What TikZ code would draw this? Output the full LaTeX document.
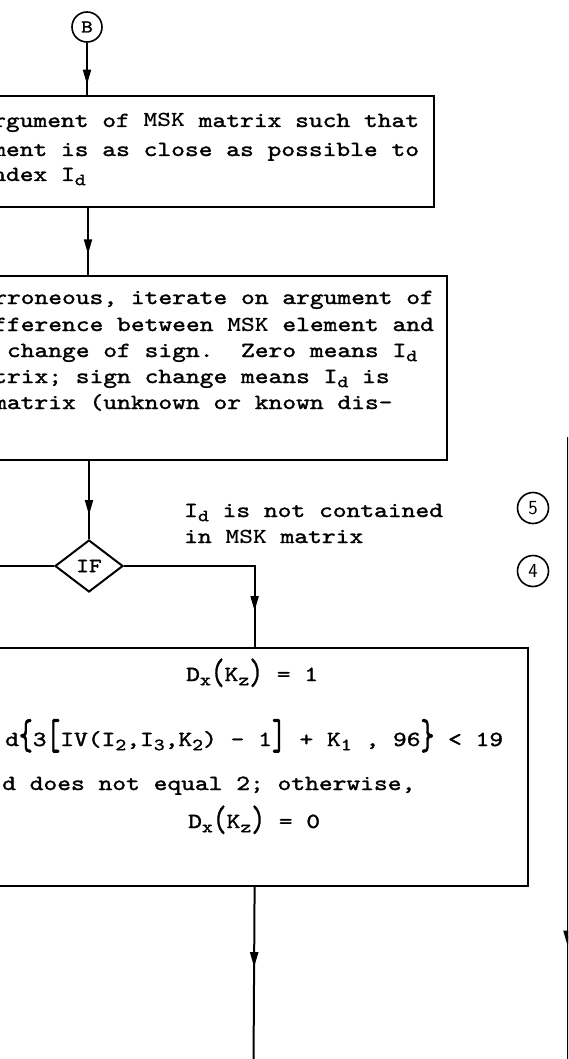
\documentclass[tikz,border=0pt]{standalone}
\usepackage{fontspec}
\usepackage{graphicx}
\setmainfont{lmmono10-regular}[Extension=.otf,FakeStretch=1.22,FakeBold=1.5]
\newfontfamily\msk{lmmonolt10-bold}[Extension=.otf,FakeStretch=1.22]
\usetikzlibrary{arrows.meta,shapes.geometric,decorations.markings}
\tikzset{
  flow/.style={line width=2pt},
  midarrow/.style={postaction={decorate},decoration={markings,
      mark=at position #1 with {\arrow{Triangle[length=15pt,width=8pt]}}}},
  box/.style={draw,line width=2.2pt,inner sep=0pt,anchor=north west},
  riga/.style={anchor=base west,inner sep=0pt,font=\fontsize{21.5}{26}\selectfont},
  conn/.style={draw,circle,line width=1.6pt,inner sep=0pt,minimum size=30pt}
}
\newcommand{\sbd}[1]{\raisebox{-0.45ex}{\fontsize{17}{17}\selectfont #1}}
\newcommand{\alto}[2][1.7]{\raisebox{-0.32ex}{\scalebox{1}[#1]{#2}}}
\begin{document}
\begin{tikzpicture}[x=1pt,y=-1pt]
  \useasboundingbox (0,0) rectangle (568,1059);
  \clip (0,0) rectangle (568,1059);
  %connettore B
  \node[conn,font=\fontsize{18}{18}\selectfont] (B) at (87,27) {B};
  %primo blocco
  \node[box,minimum width=453pt,minimum height=111pt] (box1) at (-20,95) {};
  \node[riga] (t11) at (-8,127) {rgument of {\msk MSK} matrix such that};
  \node[riga] (t12) at (-8,156) {ment is as close as possible to};
  \node[riga] (t13) at (-8,181) {ndex I\sbd{d}};
  %secondo blocco
  \node[box,minimum width=466pt,minimum height=184pt] (box2) at (-20,275) {};
  \node[riga] (t21) at (-7,304) {rroneous, iterate on argument of};
  \node[riga] (t22) at (-7,331) {fference between {\msk MSK} element and};
  \node[riga] (t23) at (-7,357) {\ change of sign.\ \ Zero means I\sbd{d}};
  \node[riga] (t24) at (-7,383) {trix; sign change means I\sbd{d} is};
  \node[riga] (t25) at (-7,409) {matrix (unknown or known dis-};
  %decisione IF
  \node[draw,diamond,line width=2pt,minimum width=68pt,minimum height=52pt,
        inner sep=0pt,font=\fontsize{20}{20}\selectfont] (IF) at (89,566) {IF};
  \node[riga] (nota1) at (184,517) {I\sbd{d} is not contained};
  \node[riga] (nota2) at (184,543) {in {\msk MSK} matrix};
  \node[conn,minimum size=31pt,font=\sffamily\fontsize{20}{20}\selectfont] (c5) at (533,508) {5};
  \node[conn,minimum size=31pt,font=\sffamily\fontsize{20}{20}\selectfont] (c4) at (533,571) {4};
  %terzo blocco
  \node[box,minimum width=547pt,minimum height=238pt] (box3) at (-20,647) {};
  \node[riga] (t31) at (186,681) {D\sbd{x}\alto{(}K\sbd{z}\alto{)} = 1};
  \node[riga] (t32) at (5,746) {d\alto[2]{\{}3\alto[2]{[}IV(I\sbd{\textbf{2}},I\sbd{3},K\sbd{\textbf{2}}) - 1\alto[2]{]} + K\sbd{1} , 96\alto[2]{\}} < 19};
  \node[riga] (t33) at (2,790) {d does not equal 2; otherwise,};
  \node[riga] (t34) at (188,828) {D\sbd{x}\alto{(}K\sbd{z}\alto{)} = 0};
  %estremi liberi
  \coordinate (sx) at (-5,566);
  \coordinate (giu) at (253.5,1065);
  \coordinate (r1) at (567.5,437);
  \coordinate (r2) at (567.5,1065);
  %collegamenti
  \draw[flow,midarrow=0.8] (B.south) -- (B.south |- box1.north);
  \draw[flow,midarrow=0.7] (88,206) coordinate (a1) -- (88,275) coordinate (a2);
  \draw[flow,midarrow=0.7] (89,459) coordinate (a3) -- (IF.north);
  \draw[flow] (IF.west) -- (sx);
  \draw[flow,midarrow=0.83] (IF.east) -| (box3.north);
  \draw[flow,midarrow=0.45] (box3.south) -- (giu);
  \draw[flow,midarrow=0.81] (r1) -- (r2);
\end{tikzpicture}
\end{document}
